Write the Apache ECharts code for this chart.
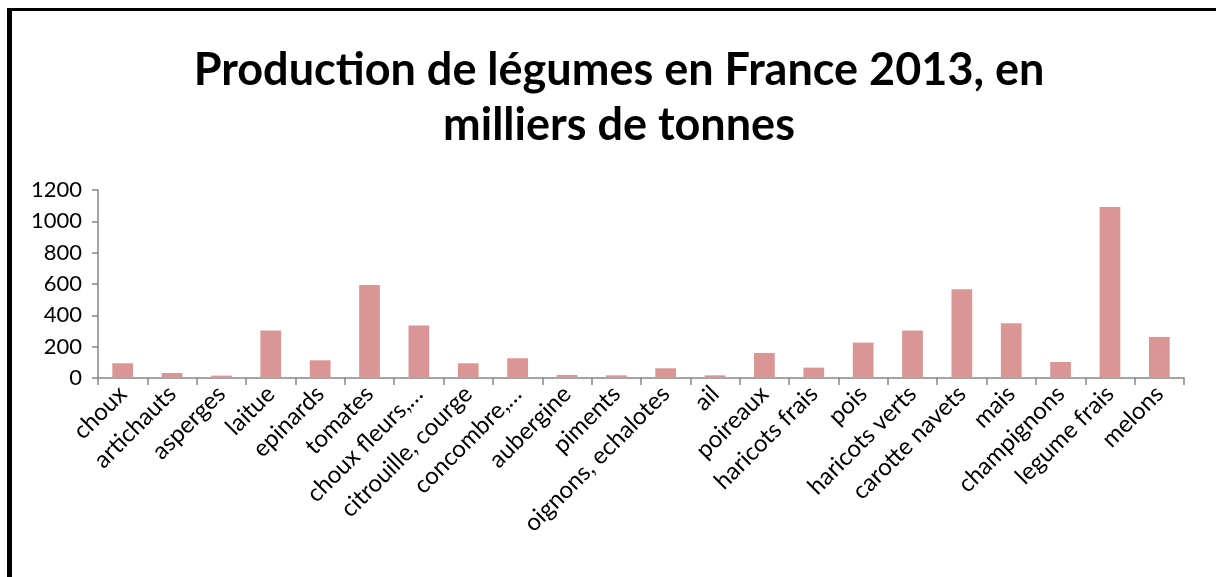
<!DOCTYPE html>
<html>
<head>
  <meta charset="UTF-8">
  <title>Production de légumes en France 2013</title>
  <script src="https://cdn.jsdelivr.net/npm/echarts@6/dist/echarts.min.js"></script>
  <style>
    html, body { margin: 0; padding: 0; background: #fff; }
    #chart { width: 1216px; height: 577px; position: relative; }
    .frame { position: absolute; left: 7px; top: 8px; width: 1300px; height: 700px;
             border-left: 5px solid #000; border-top: 3px solid #000; pointer-events: none; }
  </style>
</head>
<body>
<div id="chart"></div>
<div class="frame"></div>
<script type="text/javascript">
  var titleText = 'Production de légumes en France 2013, en\nmilliers de tonnes';
  var legumes = ['choux', 'artichauts', 'asperges', 'laitue', 'epinards', 'tomates',
    'choux fleurs,…', 'citrouille, courge', 'concombre,…', 'aubergine', 'piments',
    'oignons, echalotes', 'ail', 'poireaux', 'haricots frais', 'pois', 'haricots verts',
    'carotte navets', 'mais', 'champignons', 'legume frais', 'melons'];
  var production = [94, 32, 15, 303, 113, 593, 335, 94, 126, 19, 17,
    62, 17, 160, 66, 226, 303, 567, 350, 102, 1092, 262];
  var yTicks = [0, 200, 400, 600, 800, 1000, 1200];

  var chart = echarts.init(document.getElementById('chart'));
  chart.setOption({
    animation: false,
    title: {
      text: titleText,
      left: 614,
      top: 38,
      textAlign: 'center',
      textStyle: { fontFamily: 'Lato', fontWeight: 'bold', fontSize: 45, lineHeight: 55, color: '#000' }
    },
    grid: { left: 98, right: 32, top: 190, bottom: 199 },
    xAxis: {
      type: 'category',
      data: legumes,
      axisLine: { lineStyle: { color: '#868686', width: 1.5 } },
      axisTick: { show: true, length: 7, alignWithLabel: false, lineStyle: { color: '#868686', width: 1.5 } },
      axisLabel: { interval: 0, rotate: 45, margin: 12, fontFamily: 'Lato', fontSize: 24, color: '#000' }
    },
    yAxis: {
      type: 'value',
      min: yTicks[0],
      max: yTicks[yTicks.length - 1],
      interval: 200,
      splitLine: { show: false },
      axisLine: { show: true, lineStyle: { color: '#868686', width: 1.5 } },
      axisTick: { show: true, length: 6, lineStyle: { color: '#868686', width: 1.5 } },
      axisLabel: { margin: 16, fontFamily: 'Lato', fontSize: 22, color: '#000',
        formatter: function (v) { return String(v); } }
    },
    series: [{
      type: 'bar',
      data: production,
      barWidth: '42%',
      itemStyle: { color: '#d99694' }
    }]
  });
</script>
</body>
</html>
